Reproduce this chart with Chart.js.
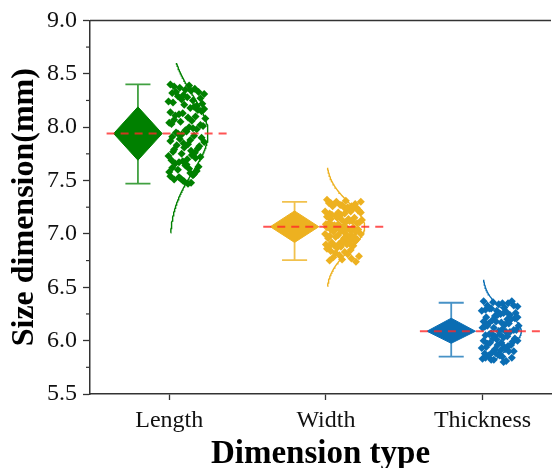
<!DOCTYPE html>
<html>
<head>
<meta charset="utf-8">
<script src="https://cdn.jsdelivr.net/npm/chart.js@4.4.1/dist/chart.umd.min.js"></script>
<style>
  html, body { margin: 0; padding: 0; background: #ffffff; }
  #wrap { width: 555px; height: 468px; position: relative; }
</style>
</head>
<body>
<div id="wrap"><canvas id="c" width="555" height="468"></canvas></div>
<script>
// ---------------- data ----------------
const categories = ['Length', 'Width', 'Thickness'];
const colors = ['#008000', '#EDB120', '#0A6DB3'];
const whiskerColors = ['rgba(0,128,0,0.75)', 'rgba(237,177,32,0.8)', 'rgba(10,109,179,0.75)'];
const means = [7.94, 7.067, 6.088];
const diamondHi = [8.19, 7.215, 6.21];
const diamondLo = [7.69, 6.92, 5.975];
const whiskerHi = [8.40, 7.30, 6.355];
const whiskerLo = [7.47, 6.755, 5.85];
const curveLo = [7.01, 6.51, 5.83];
const curveHi = [8.60, 7.62, 6.57];
const curveSD = [0.36, 0.22, 0.18];
const yTickValues = [5.5, 6.0, 6.5, 7.0, 7.5, 8.0, 8.5, 9.0];

const lengthValues = [8.40, 8.37, 8.39, 8.33, 8.38, 8.35, 8.31, 8.36, 8.29, 8.34, 8.32, 8.27, 8.30, 8.25, 8.33, 8.22,
  8.28, 8.24, 8.20, 8.26, 8.18, 8.23, 8.15, 8.21, 8.19, 8.12, 8.17, 8.14, 8.09, 8.16, 8.11, 8.06, 8.13, 8.08, 8.03,
  8.10, 8.05, 8.00, 8.07, 8.02, 7.97, 8.04, 7.99, 7.94, 8.01, 7.96, 7.91, 7.98, 7.93, 7.88, 7.95, 7.90, 7.85, 7.92,
  7.87, 7.82, 7.89, 7.84, 7.79, 7.86, 7.81, 7.76, 7.83, 7.78, 7.73, 7.80, 7.75, 7.70, 7.77, 7.72, 7.67, 7.74, 7.69,
  7.64, 7.71, 7.66, 7.61, 7.68, 7.63, 7.58, 7.65, 7.60, 7.55, 7.62, 7.57, 7.52, 7.59, 7.54, 7.49, 7.56, 7.51, 7.47,
  7.53, 7.48, 7.50];
const widthValues = [7.32, 7.30, 7.31, 7.28, 7.29, 7.27, 7.30, 7.26, 7.28, 7.25, 7.29, 7.24, 7.27, 7.23, 7.26, 7.22,
  7.25, 7.21, 7.24, 7.20, 7.23, 7.19, 7.22, 7.18, 7.21, 7.17, 7.20, 7.16, 7.19, 7.15, 7.18, 7.14, 7.17, 7.13, 7.16,
  7.12, 7.15, 7.11, 7.14, 7.10, 7.13, 7.09, 7.12, 7.08, 7.11, 7.07, 7.10, 7.06, 7.09, 7.05, 7.08, 7.04, 7.07, 7.03,
  7.06, 7.02, 7.05, 7.01, 7.04, 7.00, 7.03, 6.99, 7.02, 6.98, 7.00, 6.97, 6.99, 6.96, 6.98, 6.95, 6.97, 6.94, 6.96,
  6.93, 6.95, 6.92, 6.94, 6.91, 6.93, 6.90, 6.92, 6.89, 6.91, 6.88, 6.90, 6.87, 6.89, 6.86, 6.88, 6.85, 6.84, 6.83,
  6.82, 6.81, 6.80, 6.79, 6.78, 6.77, 6.76, 6.75, 6.74];
const thicknessValues = [6.37, 6.36, 6.35, 6.37, 6.33, 6.34, 6.32, 6.35, 6.30, 6.31, 6.29, 6.33, 6.28, 6.27, 6.30,
  6.26, 6.25, 6.28, 6.24, 6.23, 6.26, 6.22, 6.21, 6.24, 6.20, 6.19, 6.22, 6.18, 6.17, 6.20, 6.16, 6.15, 6.18, 6.14,
  6.13, 6.16, 6.12, 6.11, 6.14, 6.10, 6.09, 6.12, 6.08, 6.07, 6.10, 6.06, 6.05, 6.08, 6.04, 6.03, 6.06, 6.02, 6.01,
  6.04, 6.00, 5.99, 6.02, 5.98, 5.97, 6.00, 5.96, 5.95, 5.98, 5.94, 5.93, 5.96, 5.92, 5.91, 5.94, 5.90, 5.89, 5.92,
  5.88, 5.87, 5.90, 5.86, 5.85, 5.88, 5.84, 5.83, 5.86, 5.82, 5.81, 5.84, 5.80, 5.82];
const jitter = [0.05, 0.30, 0.55, 0.80, 0.15, 0.45, 0.95, 0.70, 0.25, 0.60, 0.10, 0.85, 0.40, 0.65, 0.20, 0.90, 0.50,
  0.00, 0.75, 0.35, 0.58, 0.12, 0.88, 0.42, 0.68, 0.28, 0.95, 0.05, 0.52, 0.78, 0.18, 0.62, 0.38, 0.98, 0.08, 0.72,
  0.32, 0.55, 0.15, 0.85, 0.45, 0.02, 0.65, 0.25, 0.92, 0.48, 0.10, 0.75, 0.35, 0.58, 0.20, 0.88, 0.40, 0.68, 0.05,
  0.82, 0.30, 0.52, 0.15, 0.95, 0.42, 0.70, 0.22, 0.60, 0.00, 0.78, 0.35, 0.50, 0.12, 0.85, 0.28, 0.62, 0.08, 0.45,
  0.72, 0.18, 0.55, 0.38, 0.80, 0.02, 0.48, 0.25, 0.65, 0.10, 0.58, 0.32, 0.75, 0.05, 0.42, 0.68, 0.15, 0.52, 0.28,
  0.60, 0.38, 0.90, 0.22, 0.70, 0.45, 0.12, 0.82];
const groupValues = [lengthValues, widthValues, thicknessValues];

// ---------------- layout constants ----------------
const DIAMOND_OFFSET = -0.2, DIAMOND_HALF = 0.155, CAP_HALF = 0.08;
const DASH_LEFT = -0.4, DASH_RIGHT = 0.395;
const PTS_START = -0.005, PTS_SPAN = 0.24;
const CURVE_BASE = 0.0, CURVE_AMP = 0.247;
const SERIF = '"Liberation Serif", "Times New Roman", serif';

const datasets = [];
categories.forEach((cat, i) => {
  const c = i + 1;
  const col = colors[i];
  datasets.push({
    type: 'scatter', label: cat + ' mean', showLine: true, order: 1,
    data: [{x: c + DASH_LEFT, y: means[i]}, {x: c + DASH_RIGHT, y: means[i]}],
    borderColor: 'rgba(255,40,40,0.8)', borderWidth: 2, borderDash: [8, 6],
    pointRadius: 0, fill: false
  });
  const curve = [];
  for (let y = curveLo[i]; y <= curveHi[i] + 1e-9; y += 0.01) {
    const z = (y - means[i]) / curveSD[i];
    curve.push({x: c + CURVE_BASE + CURVE_AMP * Math.exp(-0.5 * z * z), y: y});
  }
  datasets.push({
    type: 'scatter', label: cat + ' curve', showLine: true, order: 2,
    data: curve, borderColor: col, borderWidth: 1.4, pointRadius: 0, fill: false, tension: 0
  });
  datasets.push({
    type: 'scatter', label: cat + ' points', order: 3,
    data: groupValues[i].map((v, k) => ({x: c + PTS_START + PTS_SPAN * jitter[k % jitter.length], y: v})),
    pointStyle: 'rectRot', pointRadius: 4, backgroundColor: col, borderColor: col, borderWidth: 0
  });
  const dx = c + DIAMOND_OFFSET;
  datasets.push({
    type: 'scatter', label: cat + ' diamond', showLine: true, order: 4,
    data: [{x: dx - DIAMOND_HALF, y: means[i]}, {x: dx, y: diamondHi[i]}, {x: dx + DIAMOND_HALF, y: means[i]},
           {x: dx, y: diamondLo[i]}, {x: dx - DIAMOND_HALF, y: means[i]}],
    borderColor: col, borderWidth: 1, backgroundColor: col, fill: 'shape', pointRadius: 0
  });
  datasets.push({
    type: 'scatter', label: cat + ' whisker', showLine: true, order: 5, spanGaps: false,
    data: [{x: dx - CAP_HALF, y: whiskerHi[i]}, {x: dx + CAP_HALF, y: whiskerHi[i]}, {x: dx, y: null},
           {x: dx, y: whiskerHi[i]}, {x: dx, y: whiskerLo[i]}, {x: dx, y: null},
           {x: dx - CAP_HALF, y: whiskerLo[i]}, {x: dx + CAP_HALF, y: whiskerLo[i]}],
    borderColor: whiskerColors[i], borderWidth: 1.8, pointRadius: 0, fill: false
  });
});

const framePlugin = {
  id: 'frame',
  afterDraw(chart) {
    const {ctx, chartArea} = chart;
    const y = chart.scales.y;
    ctx.save();
    ctx.strokeStyle = '#333';
    ctx.lineWidth = 1.5;
    ctx.beginPath();
    ctx.moveTo(chartArea.left, chartArea.top);
    ctx.lineTo(chartArea.right, chartArea.top);
    ctx.stroke();
    ctx.lineWidth = 1.2;
    for (let k = 0; k < yTickValues.length - 1; k++) {
      const v = (yTickValues[k] + yTickValues[k + 1]) / 2;
      const py = y.getPixelForValue(v);
      ctx.beginPath();
      ctx.moveTo(chartArea.left - 4, py);
      ctx.lineTo(chartArea.left, py);
      ctx.stroke();
    }
    ctx.restore();
  }
};

new Chart(document.getElementById('c'), {
  type: 'scatter',
  data: { datasets },
  options: {
    responsive: false, animation: false, devicePixelRatio: 1,
    layout: { padding: { top: 20, right: 0, bottom: 0, left: 0 } },
    plugins: { legend: { display: false }, tooltip: { enabled: false }, filler: { drawTime: 'beforeDatasetDraw' } },
    scales: {
      x: {
        type: 'linear', min: 0.494, max: 3.437,
        afterBuildTicks: (s) => { s.ticks = categories.map((_, i) => ({value: i + 1})); },
        afterFit: (s) => { s.height = 74; },
        ticks: { callback: (v) => categories[Math.round(v) - 1] || '', color: '#111', padding: 6,
                 font: { family: SERIF, size: 24 }, maxRotation: 0, autoSkip: false },
        grid: { display: true, drawOnChartArea: false, drawTicks: true, tickLength: 6, color: '#333', tickWidth: 1.3 },
        border: { display: true, color: '#333', width: 1.5 },
        title: { display: true, text: 'Dimension type', color: '#000',
                 font: { family: SERIF, size: 33, weight: 'bold', lineHeight: 0.8 }, padding: { top: 0, bottom: 0.5 } }
      },
      y: {
        type: 'linear', min: 5.5, max: 9.0,
        afterBuildTicks: (s) => { s.ticks = yTickValues.map(v => ({value: v})); },
        afterFit: (s) => { s.width = 90; },
        ticks: { callback: (v) => Number(v).toFixed(1), color: '#111', padding: 6,
                 font: { family: SERIF, size: 24 } },
        grid: { display: true, drawOnChartArea: false, drawTicks: true, tickLength: 7, color: '#333', tickWidth: 1.3 },
        border: { display: true, color: '#333', width: 1.5 },
        title: { display: true, text: 'Size dimension(mm)', color: '#000',
                 font: { family: SERIF, size: 32, weight: 'bold', lineHeight: 1.2 }, padding: { top: 6, bottom: 0 } }
      }
    }
  },
  plugins: [framePlugin]
});
</script>
</body>
</html>
